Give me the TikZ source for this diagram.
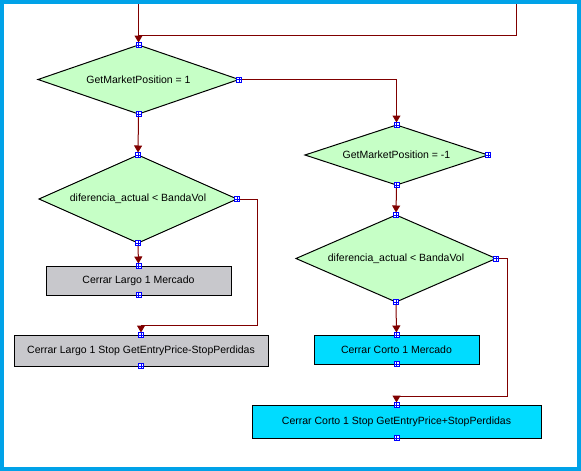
\documentclass[tikz,border=0pt]{standalone}
\usepackage{fontspec}
\setmainfont{Liberation Sans}
\usetikzlibrary{shapes.geometric,arrows.meta,calc}
\definecolor{frameblue}{RGB}{0,162,232}
\definecolor{dgreen}{RGB}{198,255,198}
\definecolor{bgray}{RGB}{200,200,204}
\definecolor{bcyan}{RGB}{0,220,255}
\definecolor{dred}{RGB}{128,0,0}
\begin{document}
\begin{tikzpicture}[x=1pt,y=-1pt,
  font=\fontsize{10.5}{12}\selectfont,
  decision/.style={diamond, draw=black, line width=1pt, fill=dgreen, inner sep=0pt, outer sep=0pt},
  actbox/.style={rectangle, draw=black, line width=1pt, inner sep=0pt, outer sep=0pt},
  port/.style={draw=blue, fill=white, line width=0.8pt, minimum size=5pt, inner sep=0pt, outer sep=0pt,
    path picture={\draw[blue,line width=0.6pt] (path picture bounding box.north) -- (path picture bounding box.south) (path picture bounding box.west) -- (path picture bounding box.east);}},
  flow/.style={draw=dred, line width=1pt},
  arr/.style={flow, -{Triangle[width=8pt,length=7pt]}, shorten >=2.5pt}]
\useasboundingbox (0,0) rectangle (581,471);
\fill[frameblue] (0,0) rectangle (581,471);
\fill[white] (4,4) rectangle (577,467);

% shapes
\node[decision, shape aspect=2.913, minimum width=201pt, minimum height=69pt] (d1) at (138.5,79.5) {GetMarketPosition = 1};
\node[decision, shape aspect=2.25, minimum width=198pt, minimum height=88pt] (d2) at (138,199) {diferencia\_actual < BandaVol};
\node[decision, shape aspect=3.05, minimum width=183pt, minimum height=60pt] (d3) at (396.5,155) {GetMarketPosition = -1};
\node[decision, shape aspect=2.3, minimum width=200pt, minimum height=87pt] (d4) at (396,258.5) {diferencia\_actual < BandaVol};
\node[actbox, fill=bgray, minimum width=185pt, minimum height=29pt] (b1) at (138.5,280.5) {Cerrar Largo 1 Mercado};
\node[actbox, fill=bgray, minimum width=254pt, minimum height=31pt] (b2) at (141,350.5) {Cerrar Largo 1 Stop GetEntryPrice-StopPerdidas};
\node[actbox, fill=bcyan, minimum width=165pt, minimum height=29pt] (b3) at (396.5,349.5) {Cerrar Corto 1 Mercado};
\node[actbox, fill=bcyan, minimum width=289pt, minimum height=33pt] (b4) at (396.5,421.5) {Cerrar Corto 1 Stop GetEntryPrice+StopPerdidas};

% connectors
\coordinate (in1) at (138.5,4);
\coordinate (in2) at (516,4);
\coordinate (join) at (138.5,35);
\coordinate (r1) at (257,325);
\coordinate (r2) at (507,396);
\draw[arr] (in1) -- (d1.north);
\draw[flow] (in2) |- (join);
\draw[arr] (d1.south) -- (d2.north);
\draw[arr] (d2.south) -- (b1.north);
\draw[arr] (d2.east) -| (r1) -| (b2.north);
\draw[arr] (d1.east) -| (d3.north);
\draw[arr] (d3.south) -- (d4.north);
\draw[arr] (d4.south) -- (b3.north);
\draw[arr] (d4.east) -| (r2) -| (b4.north);

% ports
\foreach \s in {d1,d2,d3,d4}{
  \node[port] (\s pn) at (\s.north) {};
  \node[port] (\s ps) at (\s.south) {};
  \node[port] (\s pe) at (\s.east) {};
}
\foreach \s in {b1,b2,b3,b4}{
  \node[port] (\s pn) at (\s.north) {};
  \node[port] (\s ps) at (\s.south) {};
}
\end{tikzpicture}
\end{document}
